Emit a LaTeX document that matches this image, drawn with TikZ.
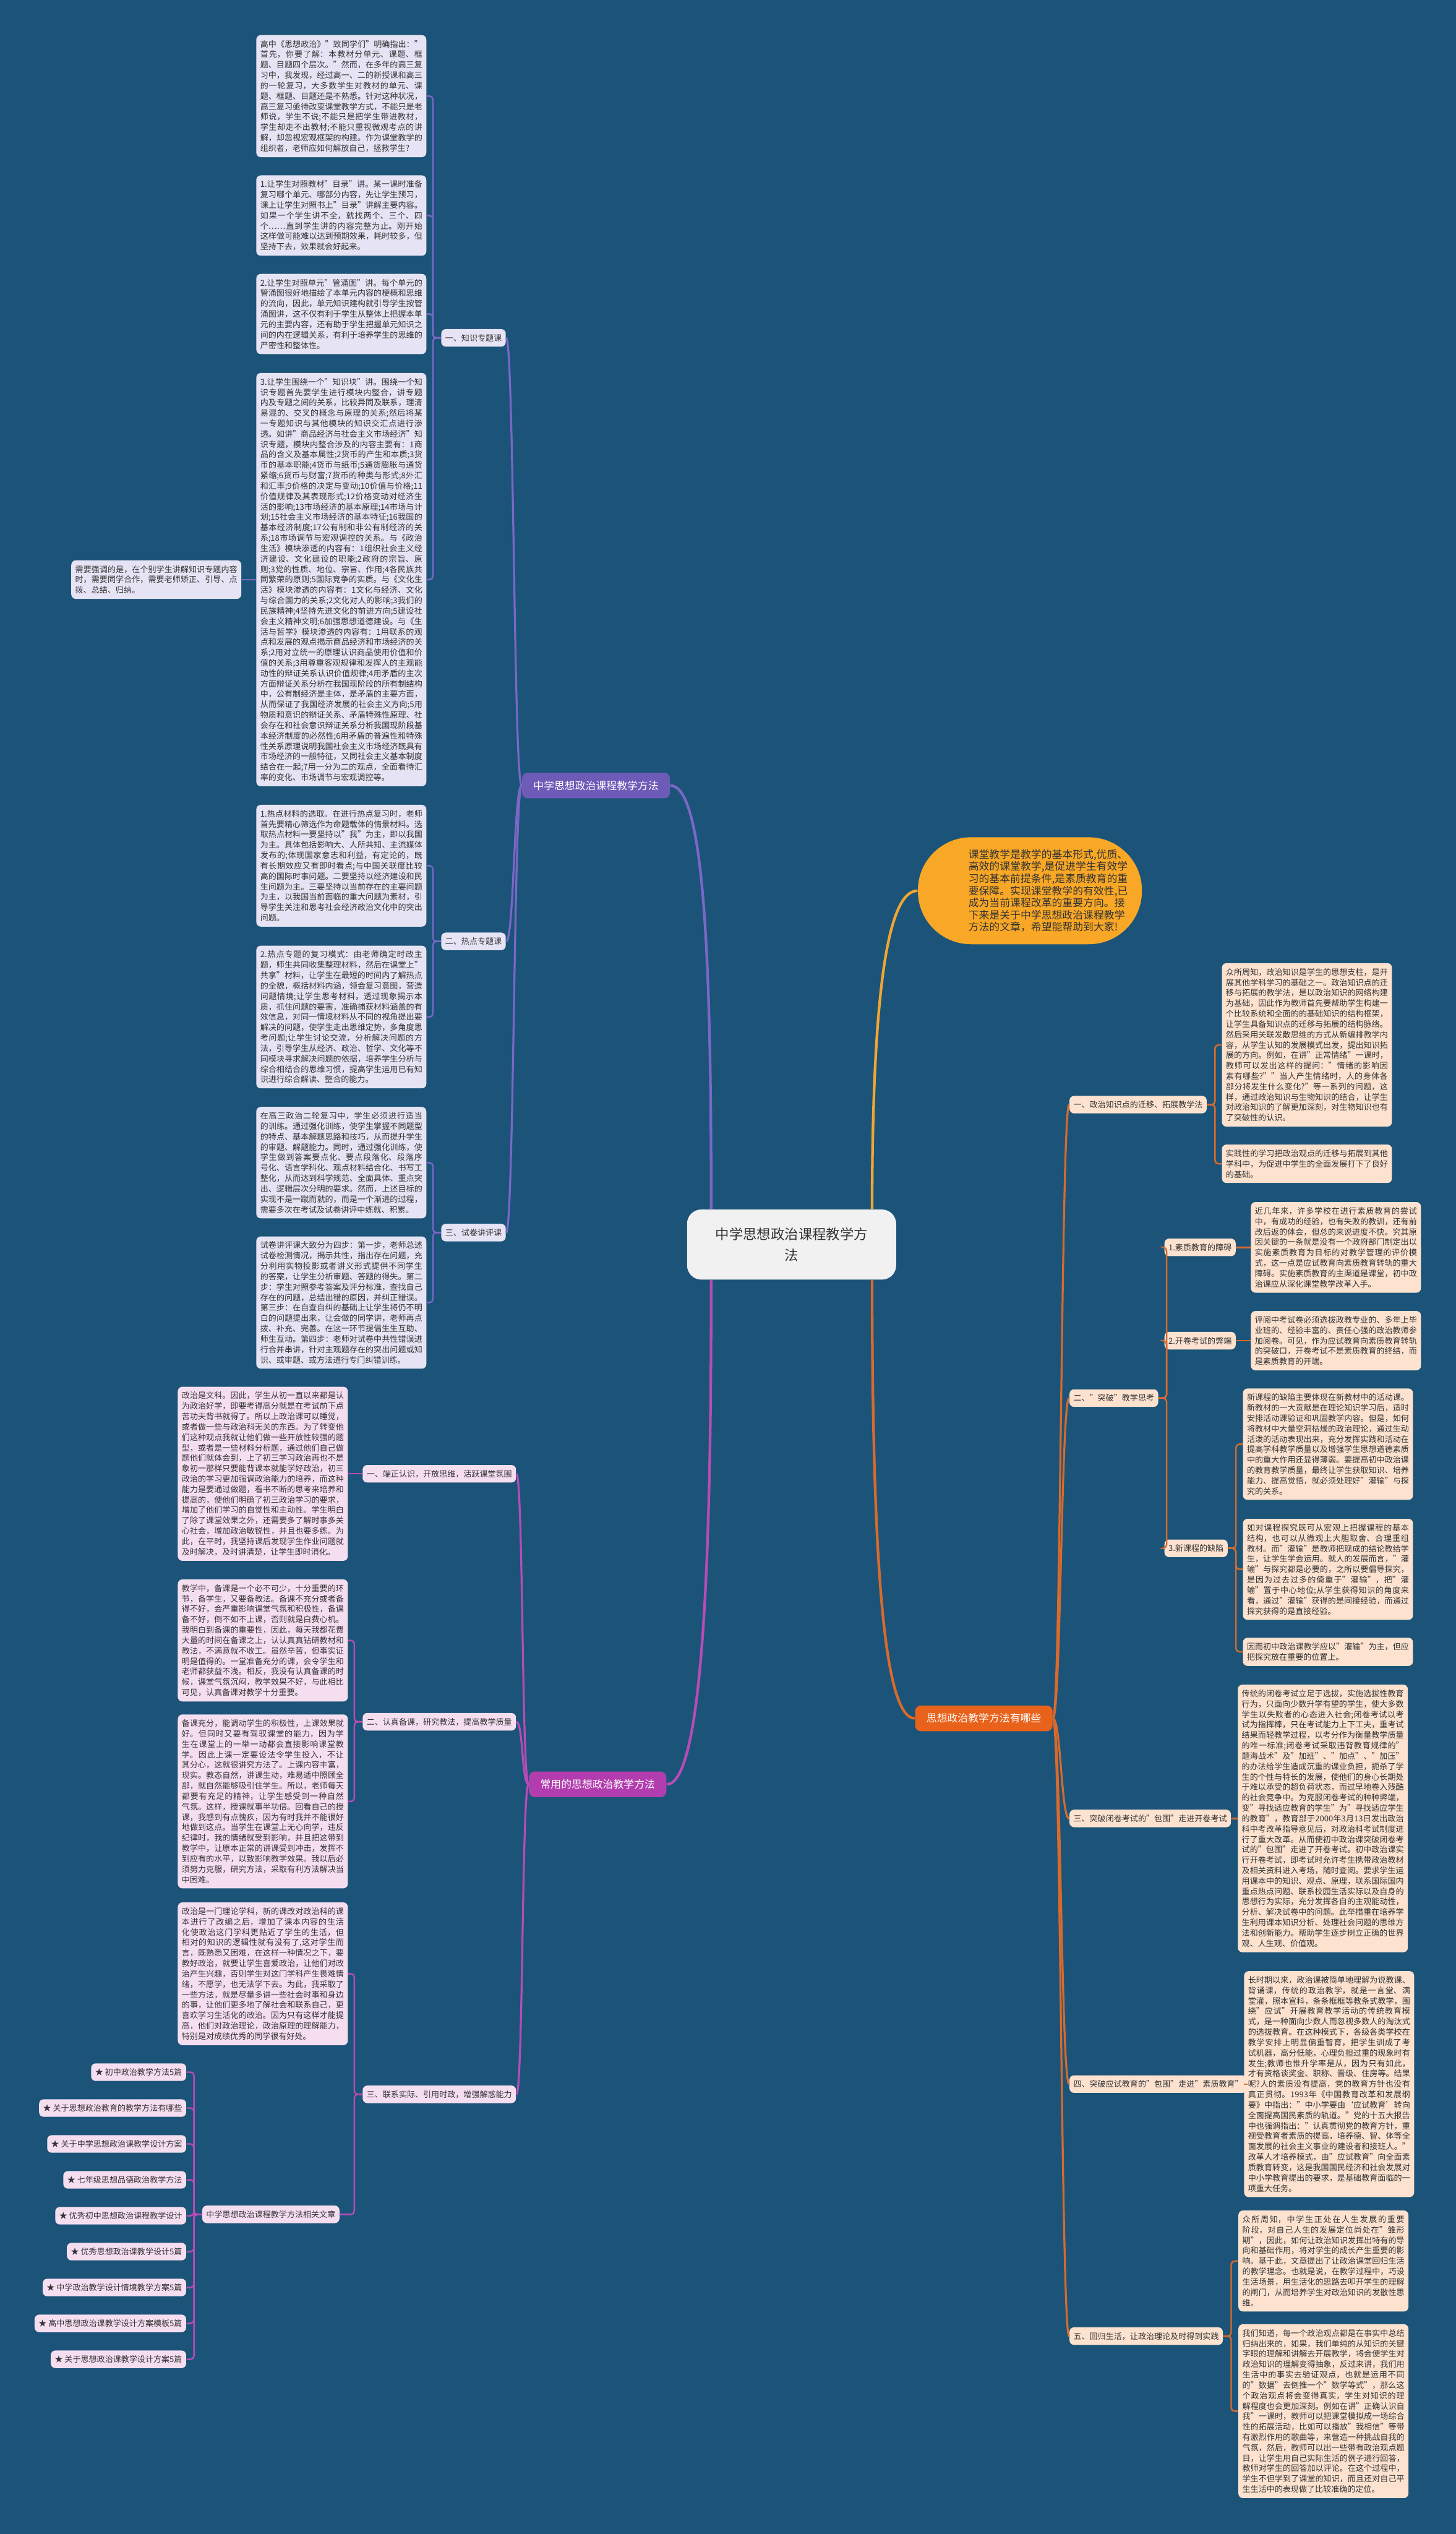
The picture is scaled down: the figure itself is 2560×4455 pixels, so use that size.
\documentclass[tikz,border=0pt]{standalone}
\usepackage{fontspec}
\setmainfont{Noto Sans CJK SC}
\XeTeXlinebreaklocale "zh"
\XeTeXlinebreakskip=0pt plus 0.6pt
\tolerance=9999
\hbadness=10000
\usetikzlibrary{calc}

\definecolor{bgblue}{HTML}{1B5478}
\definecolor{lavleaf}{HTML}{E6E3F4}
\definecolor{pinkleaf}{HTML}{F6DEF1}
\definecolor{peachleaf}{HTML}{FDE2D0}
\definecolor{purpmain}{HTML}{6E5BB8}
\definecolor{purpline}{HTML}{7B67C7}
\definecolor{magmain}{HTML}{B23DAE}
\definecolor{magline}{HTML}{B84BB6}
\definecolor{orgmain}{HTML}{E8621C}
\definecolor{orgline}{HTML}{D96A2C}
\definecolor{introfill}{HTML}{F8A726}
\definecolor{introline}{HTML}{F2A532}
\definecolor{rootfill}{HTML}{F1F1F1}
\definecolor{inkgray}{HTML}{333333}

\newcommand\leaffont{\fontsize{4.26pt}{5.49pt}\selectfont}
\newcommand\branchfont{\fontsize{5.5pt}{6.6pt}\selectfont}
\newcommand\rootfont{\fontsize{7.3pt}{11pt}\selectfont}
\newcommand\introfont{\fontsize{5.5pt}{6.4pt}\selectfont}

\tikzset{
  leafbox/.style={fill=#1, rounded corners=2.4pt, inner xsep=2.1pt, inner ysep=2.7pt,
    text width=85.5pt, align=justify, font=\leaffont, text=inkgray},
  tagbox/.style={fill=#1, rounded corners=2.4pt, inner xsep=2.1pt, inner ysep=2.5pt,
    text height=3.75pt, text depth=0.5pt, font=\leaffont, text=inkgray},
  branchbox/.style={fill=#1, rounded corners=3pt, inner xsep=6pt, inner ysep=4pt,
    text height=4.8pt, text depth=0.7pt, font=\branchfont, text=white},
  rootbox/.style={fill=rootfill, rounded corners=7.5pt, inner xsep=15pt, inner ysep=9.6pt,
    align=center, font=\rootfont, text=inkgray},
  introbox/.style={fill=introfill, rounded corners=28pt, minimum width=118.2pt,
    minimum height=56.4pt, inner sep=0pt, font=\introfont, text=inkgray},
  twigline/.style={draw=#1, line width=0.8pt, rounded corners=1.8pt},
  boughline/.style={draw=#1, line width=1.05pt},
  rootline/.style={draw=#1, line width=1.4pt},
}

\begin{document}
\begin{tikzpicture}[x=0.3pt, y=-0.3pt]
\fill[bgblue] (0,0) rectangle (2560,4455);

% centre and intro
\node[rootbox] (cn) at (1392,2188) {中学思想政治课程教学方\\法};
\node[introbox] (intro) at (1811,1566) {\hspace*{25.2pt}\begin{minipage}{90pt}\raggedright
课堂教学是教学的基本形式,优质、\\
高效的课堂教学,是促进学生有效学\\
习的基本前提条件,是素质教育的重\\
要保障。实现课堂教学的有效性,已\\
成为当前课程改革的重要方向。接\\
下来是关于中学思想政治课程教学\\
方法的文章，希望能帮助到大家!\end{minipage}};

% purple branch
\node[branchbox=purpmain] (pm) at (1048,1381) {中学思想政治课程教学方法};
\node[tagbox=lavleaf, anchor=east] (k1) at (890,594) {一、知识专题课};
\node[tagbox=lavleaf, anchor=east] (k2) at (890,1655) {二、热点专题课};
\node[tagbox=lavleaf, anchor=east] (k3) at (890,2167) {三、试卷讲评课};

\node[leafbox=lavleaf, anchor=west] (a1) at (450,169) {高中《思想政治》"致同学们"明确指出："首先，你要了解：本教材分单元、课题、框题、目题四个层次。"然而，在多年的高三复习中，我发现，经过高一、二的新授课和高三的一轮复习，大多数学生对教材的单元、课题、框题、目题还是不熟悉。针对这种状况，高三复习亟待改变课堂教学方式，不能只是老师说，学生不说;不能只是把学生带进教材，学生却走不出教材;不能只重视微观考点的讲解，却忽视宏观框架的构建。作为课堂教学的组织者，老师应如何解放自己，拯救学生?};
\node[leafbox=lavleaf, anchor=west] (a2) at (450,379) {1.让学生对照教材"目录"讲。某一课时准备复习哪个单元、哪部分内容，先让学生预习，课上让学生对照书上"目录"讲解主要内容。如果一个学生讲不全，就找两个、三个、四个……直到学生讲的内容完整为止。刚开始这样做可能难以达到预期效果，耗时较多，但坚持下去，效果就会好起来。};
\node[leafbox=lavleaf, anchor=west] (a3) at (450,552) {2.让学生对照单元"管涌图"讲。每个单元的管涌图很好地描绘了本单元内容的梗概和思维的流向，因此，单元知识建构就引导学生按管涌图讲，这不仅有利于学生从整体上把握本单元的主要内容，还有助于学生把握单元知识之间的内在逻辑关系，有利于培养学生的思维的严密性和整体性。};
\node[leafbox=lavleaf, anchor=west] (a4) at (450,1019) {3.让学生围绕一个"知识块"讲。围绕一个知识专题首先要学生进行模块内整合，讲专题内及专题之间的关系，比较异同及联系，理清易混的、交叉的概念与原理的关系;然后将某一专题知识与其他模块的知识交汇点进行渗透。如讲"商品经济与社会主义市场经济"知识专题，模块内整合涉及的内容主要有：1商品的含义及基本属性;2货币的产生和本质;3货币的基本职能;4货币与纸币;5通货膨胀与通货紧缩;6货币与财富;7货币的种类与形式;8外汇和汇率;9价格的决定与变动;10价值与价格;11价值规律及其表现形式;12价格变动对经济生活的影响;13市场经济的基本原理;14市场与计划;15社会主义市场经济的基本特征;16我国的基本经济制度;17公有制和非公有制经济的关系;18市场调节与宏观调控的关系。与《政治生活》模块渗透的内容有：1组织社会主义经济建设、文化建设的职能;2政府的宗旨、原则;3党的性质、地位、宗旨、作用;4各民族共同繁荣的原则;5国际竞争的实质。与《文化生活》模块渗透的内容有：1文化与经济、文化与综合国力的关系;2文化对人的影响;3我们的民族精神;4坚持先进文化的前进方向;5建设社会主义精神文明;6加强思想道德建设。与《生活与哲学》模块渗透的内容有：1用联系的观点和发展的观点揭示商品经济和市场经济的关系;2用对立统一的原理认识商品使用价值和价值的关系;3用尊重客观规律和发挥人的主观能动性的辩证关系认识价值规律;4用矛盾的主次方面辩证关系分析在我国现阶段的所有制结构中，公有制经济是主体，是矛盾的主要方面，从而保证了我国经济发展的社会主义方向;5用物质和意识的辩证关系、矛盾特殊性原理、社会存在和社会意识辩证关系分析我国现阶段基本经济制度的必然性;6用矛盾的普遍性和特殊性关系原理说明我国社会主义市场经济既具有市场经济的一般特征，又同社会主义基本制度结合在一起;7用一分为二的观点，全面看待汇率的变化、市场调节与宏观调控等。};
\node[leafbox=lavleaf, anchor=east] (e1) at (425,1019) {需要强调的是，在个别学生讲解知识专题内容时，需要同学合作，需要老师矫正、引导、点拨、总结、归纳。};
\node[leafbox=lavleaf, anchor=west] (a5) at (450,1522) {1.热点材料的选取。在进行热点复习时，老师首先要精心筛选作为命题载体的情景材料。选取热点材料一要坚持以"我"为主，即以我国为主。具体包括影响大、人所共知、主流媒体发布的;体现国家意志和利益，有定论的，既有长期效应又有即时看点;与中国关联度比较高的国际时事问题。二要坚持以经济建设和民生问题为主。三要坚持以当前存在的主要问题为主，以我国当前面临的重大问题为素材，引导学生关注和思考社会经济政治文化中的突出问题。};
\node[leafbox=lavleaf, anchor=west] (a6) at (450,1788) {2.热点专题的复习模式：由老师确定时政主题，师生共同收集整理材料，然后在课堂上"共享"材料，让学生在最短的时间内了解热点的全貌，概括材料内涵，领会复习意图，营造问题情境;让学生思考材料，透过现象揭示本质，抓住问题的要害，准确捕获材料涵盖的有效信息，对同一情境材料从不同的视角提出要解决的问题，使学生走出思维定势，多角度思考问题;让学生讨论交流，分析解决问题的方法，引导学生从经济、政治、哲学、文化等不同模块寻求解决问题的依据，培养学生分析与综合相结合的思维习惯，提高学生运用已有知识进行综合解读、整合的能力。};
\node[leafbox=lavleaf, anchor=west] (a7) at (450,2044) {在高三政治二轮复习中，学生必须进行适当的训练。通过强化训练，使学生掌握不同题型的特点、基本解题思路和技巧，从而提升学生的审题、解题能力。同时，通过强化训练，使学生做到答案要点化、要点段落化、段落序号化、语言学科化、观点材料结合化、书写工整化，从而达到科学规范、全面具体、重点突出、逻辑层次分明的要求。然而，上述目标的实现不是一蹴而就的，而是一个渐进的过程，需要多次在考试及试卷讲评中练就、积累。};
\node[leafbox=lavleaf, anchor=west] (a8) at (450,2290) {试卷讲评课大致分为四步：第一步，老师总述试卷检测情况，揭示共性，指出存在问题，充分利用实物投影或者讲义形式提供不同学生的答案，让学生分析审题、答题的得失。第二步：学生对照参考答案及评分标准，查找自己存在的问题，总结出错的原因，并纠正错误。第三步：在自查自纠的基础上让学生将仍不明白的问题提出来，让会做的同学讲，老师再点拨、补充、完善。在这一环节提倡生生互助、师生互动。第四步：老师对试卷中共性错误进行合并串讲，针对主观题存在的突出问题或知识、或审题、或方法进行专门纠错训练。};

% magenta branch
\node[branchbox=magmain] (mm) at (1051,3137) {常用的思想政治教学方法};
\node[tagbox=pinkleaf, anchor=east] (m1) at (908,2591) {一、端正认识，开放思维，活跃课堂氛围};
\node[tagbox=pinkleaf, anchor=east] (m2) at (908,3027) {二、认真备课，研究教法，提高教学质量};
\node[tagbox=pinkleaf, anchor=east] (m3) at (908,3682) {三、联系实际、引用时政，增强解惑能力};

\node[leafbox=pinkleaf, anchor=west] (b1) at (312,2591) {政治是文科。因此，学生从初一直以来都是认为政治好学，即要考得高分就是在考试前下点苦功夫背书就得了。所以上政治课可以睡觉，或者做一些与政治科无关的东西。为了转变他们这种观点我就让他们做一些开放性较强的题型，或者是一些材料分析题，通过他们自己做题他们就体会到，上了初三学习政治再也不是象初一那样只要能背课本就能学好政治，初三政治的学习更加强调政治能力的培养，而这种能力是要通过做题，看书不断的思考来培养和提高的，使他们明确了初三政治学习的要求，增加了他们学习的自觉性和主动性。学生明白了除了课堂效果之外，还需要多了解时事多关心社会，增加政治敏锐性，并且也要多练。为此，在平时，我坚持课后发现学生作业问题就及时解决，及时讲清楚，让学生即时消化。};
\node[leafbox=pinkleaf, anchor=west] (b2) at (312,2884) {教学中，备课是一个必不可少，十分重要的环节，备学生，又要备教法。备课不充分或者备得不好，会严重影响课堂气氛和积极性，备课备不好，倒不如不上课，否则就是白费心机。我明白到备课的重要性，因此，每天我都花费大量的时间在备课之上，认认真真钻研教材和教法，不满意就不收工。虽然辛苦，但事实证明是值得的。一堂准备充分的课，会令学生和老师都获益不浅。相反，我没有认真备课的时候，课堂气氛沉闷，教学效果不好，与此相比可见，认真备课对教学十分重要。};
\node[leafbox=pinkleaf, anchor=west] (b3) at (312,3167) {备课充分，能调动学生的积极性，上课效果就好。但同时又要有驾驭课堂的能力，因为学生在课堂上的一举一动都会直接影响课堂教学。因此上课一定要设法令学生投入，不让其分心，这就很讲究方法了。上课内容丰富，现实。教态自然，讲课生动，难易适中照顾全部，就自然能够吸引住学生。所以，老师每天都要有充足的精神，让学生感受到一种自然气氛。这样，授课就事半功倍。回看自己的授课，我感到有点愧疚，因为有时我并不能很好地做到这点。当学生在课堂上无心向学，违反纪律时，我的情绪就受到影响，并且把这带到教学中，让原本正常的讲课受到冲击，发挥不到应有的水平，以致影响教学效果。我以后必须努力克服，研究方法，采取有利方法解决当中困难。};
\node[leafbox=pinkleaf, anchor=west] (b4) at (312,3470) {政治是一门理论学科，新的课改对政治科的课本进行了改编之后，增加了课本内容的生活化使政治这门学科更贴近了学生的生活，但相对的知识的逻辑性就有没有了,这对学生而言，既熟悉又困难，在这样一种情况之下，要教好政治，就要让学生喜爱政治，让他们对政治产生兴趣，否则学生对这门学科产生畏难情绪，不愿学，也无法学下去。为此，我采取了一些方法，就是尽量多讲一些社会时事和身边的事，让他们更多地了解社会和联系自己，更喜欢学习生活化的政治。因为只有这样才能提高，他们对政治理论，政治原理的理解能力，特别是对成绩优秀的同学很有好处。};
\node[tagbox=pinkleaf, anchor=west] (rel) at (355,3893) {中学思想政治课程教学方法相关文章};
\foreach \itemtext [count=\i from 0] in {初中政治教学方法5篇, 关于思想政治教育的教学方法有哪些, 关于中学思想政治课教学设计方案, 七年级思想品德政治教学方法, 优秀初中思想政治课程教学设计, 优秀思想政治课教学设计5篇, 中学政治教学设计情境教学方案5篇, 高中思想政治课教学设计方案模板5篇, 关于思想政治课教学设计方案5篇}
  \node[tagbox=pinkleaf, anchor=east] (li\i) at (328,{3643+63.1*\i}) {★ \itemtext};

% orange branch
\node[branchbox=orgmain] (om) at (1730,3021) {思想政治教学方法有哪些};
\node[tagbox=peachleaf, anchor=west] (o1) at (1880,1942) {一、政治知识点的迁移、拓展教学法};
\node[tagbox=peachleaf, anchor=west] (o2) at (1880,2458) {二、"突破"教学思考};
\node[tagbox=peachleaf, anchor=west] (o3) at (1880,3197) {三、突破闭卷考试的"包围"走进开卷考试};
\node[tagbox=peachleaf, anchor=west] (o4) at (1880,3664) {四、突破应试教育的"包围"走进"素质教育"};
\node[tagbox=peachleaf, anchor=west] (o5) at (1880,4107) {五、回归生活，让政治理论及时得到实践};
\node[tagbox=peachleaf, anchor=west] (s1) at (2047,2193) {1.素质教育的障碍};
\node[tagbox=peachleaf, anchor=west] (s2) at (2047,2357) {2.开卷考试的弊端};
\node[tagbox=peachleaf, anchor=west] (s3) at (2047,2722) {3.新课程的缺陷};

\node[leafbox=peachleaf, anchor=west] (r1) at (2148,1837) {众所周知，政治知识是学生的思想支柱，是开展其他学科学习的基础之一。政治知识点的迁移与拓展的教学法，是以政治知识的网络构建为基础，因此作为教师首先要帮助学生构建一个比较系统和全面的的基础知识的结构框架，让学生具备知识点的迁移与拓展的结构脉络。然后采用关联发散思维的方式从新编排教学内容，从学生认知的发展模式出发，提出知识拓展的方向。例如，在讲"正常情绪"一课时，教师可以发出这样的提问："情绪的影响因素有哪些?""当人产生情绪时，人的身体各部分将发生什么变化?"等一系列的问题，这样，通过政治知识与生物知识的结合，让学生对政治知识的了解更加深刻，对生物知识也有了突破性的认识。};
\node[leafbox=peachleaf, anchor=west] (r2) at (2148,2046) {实践性的学习把政治观点的迁移与拓展到其他学科中，为促进中学生的全面发展打下了良好的基础。};
\node[leafbox=peachleaf, anchor=west] (r3) at (2199,2193) {近几年来，许多学校在进行素质教育的尝试中，有成功的经验，也有失败的教训，还有前改后返的体会，但总的来说进度不快。究其原因关键的一条就是没有一个政府部门制定出以实施素质教育为目标的对教学管理的评价模式，这一点是应试教育向素质教育转轨的重大障碍。实施素质教育的主渠道是课堂，初中政治课应从深化课堂教学改革入手。};
\node[leafbox=peachleaf, anchor=west] (r4) at (2199,2357) {评阅中考试卷必须选拔政教专业的、多年上毕业班的、经验丰富的、责任心强的政治教师参加阅卷。可见，作为应试教育向素质教育转轨的突破口，开卷考试不是素质教育的终结，而是素质教育的开端。};
\node[leafbox=peachleaf, anchor=west] (r5) at (2185,2539) {新课程的缺陷主要体现在新教材中的活动课。新教材的一大贡献是在理论知识学习后，适时安排活动课验证和巩固教学内容。但是，如何将教材中大量空洞枯燥的政治理论，通过生动活泼的活动表现出来，充分发挥实践和活动在提高学科教学质量以及增强学生思想道德素质中的重大作用还显得薄弱。要提高初中政治课的教育教学质量，最终让学生获取知识、培养能力、提高觉悟，就必须处理好"灌输"与探究的关系。};
\node[leafbox=peachleaf, anchor=west] (r6) at (2185,2759) {如对课程探究既可从宏观上把握课程的基本结构，也可以从微观上大胆取舍、合理重组教材。而"灌输"是教师把现成的结论教给学生，让学生学会运用。就人的发展而言，"灌输"与探究都是必要的，之所以要倡导探究，是因为过去过多的倚重于"灌输"，把"灌输"置于中心地位;从学生获得知识的角度来看，通过"灌输"获得的是间接经验，而通过探究获得的是直接经验。};
\node[leafbox=peachleaf, anchor=west] (r7) at (2185,2904) {因而初中政治课教学应以"灌输"为主，但应把探究放在重要的位置上。};
\node[leafbox=peachleaf, anchor=west] (r8) at (2176,3197) {传统的闭卷考试立足于选拔，实施选拔性教育行为，只面向少数升学有望的学生，使大多数学生以失败者的心态进入社会;闭卷考试以考试为指挥棒，只在考试能力上下工夫，重考试结果而轻教学过程，以考分作为衡量教学质量的唯一标准;闭卷考试采取违背教育规律的"题海战术"及"加班"、"加点"、"加压"的办法给学生造成沉重的课业负担，扼杀了学生的个性与特长的发展，使他们的身心长期处于难以承受的超负荷状态，而过早地卷入残酷的社会竞争中。为克服闭卷考试的种种弊端，变"寻找适应教育的学生"为"寻找适应学生的教育"，教育部于2000年3月13日发出政治科中考改革指导意见后，对政治科考试制度进行了重大改革。从而使初中政治课突破闭卷考试的"包围"走进了开卷考试。初中政治课实行开卷考试，即考试时允许考生携带政治教材及相关资料进入考场，随时查阅。要求学生运用课本中的知识、观点、原理，联系国际国内重点热点问题、联系校园生活实际以及自身的思想行为实际，充分发挥各自的主观能动性，分析、解决试卷中的问题。此举措重在培养学生利用课本知识分析、处理社会问题的思维方法和创新能力。帮助学生逐步树立正确的世界观、人生观、价值观。};
\node[leafbox=peachleaf, anchor=west] (r9) at (2187,3664) {长时期以来，政治课被简单地理解为说教课、背诵课，传统的政治教学，就是一言堂、满堂灌，照本宣科，条条框框等教条式教学，围绕"应试"开展教育教学活动的传统教育模式，是一种面向少数人而忽视多数人的淘汰式的选拔教育。在这种模式下，各级各类学校在教学安排上明显偏重智育，把学生训成了考试机器，高分低能，心理负担过重的现象时有发生;教师也惟升学率是从，因为只有如此，才有资格谈奖金、职称、晋级、住房等。结果呢?人的素质没有提高，党的教育方针也没有真正贯彻。1993年《中国教育改革和发展纲要》中指出："中小学要由‘应试教育’转向全面提高国民素质的轨道。"党的十五大报告中也强调指出："认真贯彻党的教育方针，重视受教育者素质的提高，培养德、智、体等全面发展的社会主义事业的建设者和接班人。"改革人才培养模式，由"应试教育"向全面素质教育转变，这是我国国民经济和社会发展对中小学教育提出的要求，是基础教育面临的一项重大任务。};
\node[leafbox=peachleaf, anchor=west] (r10) at (2177,3975) {众所周知，中学生正处在人生发展的重要阶段，对自己人生的发展定位尚处在"雏形期"，因此，如何让政治知识发挥出特有的导向和基础作用，将对学生的成长产生重要的影响。基于此，文章提出了让政治课堂回归生活的教学理念。也就是说，在教学过程中，巧设生活场景，用生活化的思路去叩开学生的理解的闸门，从而培养学生对政治知识的发散性思维。};
\node[leafbox=peachleaf, anchor=west] (r11) at (2177,4239) {我们知道，每一个政治观点都是在事实中总结归纳出来的，如果，我们单纯的从知识的关键字眼的理解和讲解去开展教学，将会使学生对政治知识的理解变得抽象，反过来讲，我们用生活中的事实去验证观点，也就是运用不同的"数据"去倒推一个"数学等式"，那么这个政治观点将会变得真实，学生对知识的理解程度也会更加深刻。例如在讲"正确认识自我"一课时，教师可以把课堂模拟成一场综合性的拓展活动，比如可以播放"我相信"等带有激烈作用的歌曲等，来营造一种挑战自我的气氛，然后，教师可以出一些带有政治观点题目，让学生用自己实际生活的例子进行回答，教师对学生的回答加以评论。在这个过程中，学生不但学到了课堂的知识，而且还对自己平生生活中的表现做了比较准确的定位。};

% connectors from the centre
\draw[rootline=purpline] ($(cn.north west)+(43,0)$) .. controls (1251,1650) and (1235,1381) .. (pm.east);
\draw[rootline=magline] ($(cn.south west)+(43,0)$) .. controls (1251,2750) and (1235,3137) .. (mm.east);
\draw[rootline=orgline] ($(cn.south east)+(-43,0)$) .. controls (1534,2700) and (1550,3021) .. (om.west);
\draw[rootline=introline] ($(cn.north east)+(-43,0)$) .. controls (1534,1750) and (1560,1566) .. (intro.west);

% branch to tags
\foreach \t in {k1,k2,k3}
  \draw[boughline=purpline] (pm.west) .. controls +(-14,0) and +(14,0) .. (\t.east);
\foreach \t in {m1,m2,m3}
  \draw[boughline=magline] (mm.west) .. controls +(-12,0) and +(12,0) .. (\t.east);
\foreach \t in {o1,o2,o3,o4,o5}
  \draw[boughline=orgline] (om.east) .. controls +(14,0) and +(-14,0) .. (\t.west);

% tags to leaves
\foreach \l in {a1,a2,a3,a4}
  \draw[twigline=purpline] (k1.west) -- ++(-14,0) |- (\l.east);
\foreach \l in {a5,a6}
  \draw[twigline=purpline] (k2.west) -- ++(-14,0) |- (\l.east);
\foreach \l in {a7,a8}
  \draw[twigline=purpline] (k3.west) -- ++(-14,0) |- (\l.east);
\draw[twigline=purpline] (a4.west) -- (e1.east);

\draw[twigline=magline] (m1.west) -- (b1.east);
\foreach \l in {b2,b3}
  \draw[twigline=magline] (m2.west) -- ++(-14,0) |- (\l.east);
\foreach \l in {b4,rel}
  \draw[twigline=magline] (m3.west) -- ++(-14,0) |- (\l.east);
\foreach \i in {0,...,8}
  \draw[twigline=magline] (rel.west) -- ++(-14,0) |- (li\i.east);

\foreach \l in {r1,r2}
  \draw[twigline=orgline] (o1.east) -- ++(14,0) |- (\l.west);
\foreach \l in {s1,s2,s3}
  \draw[twigline=orgline] (o2.east) -- ++(14,0) |- (\l.west);
\draw[twigline=orgline] (s1.east) -- (r3.west);
\draw[twigline=orgline] (s2.east) -- (r4.west);
\foreach \l in {r5,r6,r7}
  \draw[twigline=orgline] (s3.east) -- ++(14,0) |- (\l.west);
\draw[twigline=orgline] (o3.east) -- (r8.west);
\draw[twigline=orgline] (o4.east) -- (r9.west);
\foreach \l in {r10,r11}
  \draw[twigline=orgline] (o5.east) -- ++(14,0) |- (\l.west);
\end{tikzpicture}
\end{document}
